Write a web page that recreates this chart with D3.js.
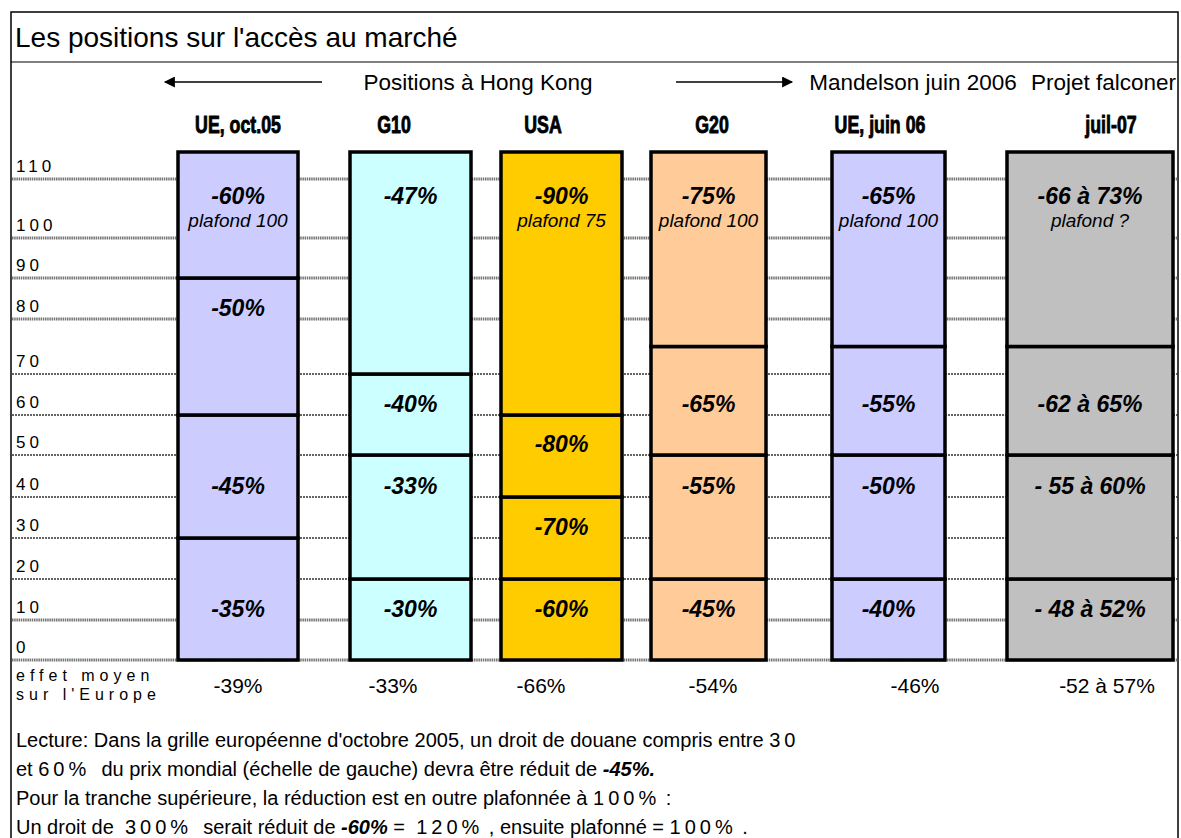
<!DOCTYPE html>
<html><head><meta charset="utf-8">
<script src="https://cdn.jsdelivr.net/npm/d3@7"></script>
<style>body{margin:0;background:#fff} svg{display:block} text{white-space:pre}</style>
</head><body><svg id="c" width="1181" height="838"></svg>
<script>
// ---------- DATA ----------
const title = "Les positions sur l'accès au marché";
const groupHeaders = ["Positions à Hong Kong", "Mandelson juin 2006", "Projet falconer"];
const categories = ["UE, oct.05", "G10", "USA", "G20", "UE, juin 06", "juil-07"];
const tierBreaks = [[0,30,60,90],[0,20,50,70],[0,20,40,60],[0,20,50,75],[0,20,50,75],[0,20,50,75]];
const tierLabels = [
  ["-35%","-45%","-50%","-60%"],
  ["-30%","-33%","-40%","-47%"],
  ["-60%","-70%","-80%","-90%"],
  ["-45%","-55%","-65%","-75%"],
  ["-40%","-50%","-55%","-65%"],
  ["- 48 à 52%","- 55 à 60%","-62 à 65%","-66 à 73%"]
];
const labelRows = [[10,40,80],[10,40,60],[10,30,50],[10,40,60],[10,40,60],[10,40,60]];
const capNotes = ["plafond 100", "", "plafond 75", "plafond 100", "plafond 100", "plafond ?"];
const averageLabel = ["effet moyen", "sur l'Europe"];
const averages = ["-39%", "-33%", "-66%", "-54%", "-46%", "-52 à 57%"];
const yTicks = [0,10,20,30,40,50,60,70,80,90,100,110];
const scaleTop = 120;
const notes = [
  [["Lecture: Dans la grille européenne d'octobre 2005, un droit de douane compris entre ","n"],["30","d"]],
  [["et ","n"],["60%","d"],["  du prix mondial (échelle de gauche) devra être réduit de ","n"],["-45%.","b"]],
  [["Pour la tranche supérieure, la réduction est en outre plafonnée à ","n"],["100%","d"],[" :","n"]],
  [["Un droit de  ","n"],["300%","d"],["  serait réduit de ","n"],["-60%","b"],[" =  ","n"],["120%","d"],[" , ensuite plafonné = ","n"],["100%","d"],[" .","n"]]
];

// ---------- LAYOUT / STYLE ----------
const fills = ["#ccccff","#ccffff","#ffcc00","#ffcc99","#ccccff","#c0c0c0"];
const L = {
  left: 11, right: 1178, top: 12, titleLine: 62,
  base: 660, rowPx: [40,41,41,41,42,40,41,55,41,40,59,27],
  boxLeft:  [178, 350, 501, 651, 832, 1007],
  boxRight: [298, 471, 622, 766, 945, 1173],
  headerX:  [238, 394, 543, 712, 880, 1111],
  avgX:     [238, 393, 541, 713, 915, 1107],
  groupX:   [478, 913, 1176],
  groupAnchor: ["middle", "middle", "end"]
};
const FONT = "'Liberation Sans', Arial, sans-serif";

const svg = d3.select("#c");

// y scale: piecewise linear over the sheet rows
const yDomain = yTicks.concat([scaleTop]);
const yRange = [L.base];
L.rowPx.forEach(h => yRange.push(yRange[yRange.length-1] - h));
const y = d3.scaleLinear().domain(yDomain).range(yRange);
const xL = d3.scaleOrdinal(categories, L.boxLeft);
const xR = d3.scaleOrdinal(categories, L.boxRight);
const xH = d3.scaleOrdinal(categories, L.headerX);
const xA = d3.scaleOrdinal(categories, L.avgX);
const color = d3.scaleOrdinal(categories, fills);

// frame
svg.append("rect").attr("x", L.left).attr("y", L.top)
  .attr("width", L.right - L.left).attr("height", 900)
  .attr("fill", "none").attr("stroke", "#000").attr("stroke-width", 1.5);
svg.append("line").attr("x1", L.left).attr("x2", L.right)
  .attr("y1", L.titleLine).attr("y2", L.titleLine)
  .attr("stroke", "#000").attr("stroke-width", 1.2);

// title
svg.append("text").attr("x", 15).attr("y", 47).text(title)
  .attr("font-family", FONT).attr("font-size", 28).attr("fill", "#000");

// arrows + group headers
const defs = svg.append("defs");
defs.append("marker").attr("id", "ah").attr("viewBox", "0 0 10 10")
  .attr("refX", 9).attr("refY", 5).attr("markerWidth", 15).attr("markerHeight", 11)
  .attr("markerUnits", "userSpaceOnUse").attr("orient", "auto-start-reverse")
  .append("path").attr("d", "M0,0L10,5L0,10z").attr("fill", "#000");
svg.append("line").attr("x1", 165).attr("x2", 322).attr("y1", 82).attr("y2", 82)
  .attr("stroke", "#000").attr("stroke-width", 1.3).attr("marker-start", "url(#ah)");
svg.append("line").attr("x1", 676).attr("x2", 792).attr("y1", 82).attr("y2", 82)
  .attr("stroke", "#000").attr("stroke-width", 1.3).attr("marker-end", "url(#ah)");
svg.selectAll("text.grp").data(groupHeaders).join("text").attr("class", "grp")
  .attr("x", (d, i) => L.groupX[i]).attr("y", 90).attr("text-anchor", (d, i) => L.groupAnchor[i])
  .attr("font-family", FONT).attr("font-size", 22.5).text(d => d);

// column headers (condensed heavy look)
svg.selectAll("text.hdr").data(categories).join("text").attr("class", "hdr")
  .attr("transform", d => `translate(${xH(d)},133) scale(0.74,1)`)
  .attr("text-anchor", "middle")
  .attr("font-family", FONT).attr("font-weight", "bold").attr("font-size", 24)
  .attr("stroke", "#000").attr("stroke-width", 0.9).text(d => d);

// gridlines
const heavy = v => v <= 10 || v >= 80;
svg.selectAll("line.grid").data(yTicks).join("line").attr("class", "grid")
  .attr("x1", L.left + 1).attr("x2", L.right)
  .attr("y1", d => y(d)).attr("y2", d => y(d))
  .attr("stroke", d => heavy(d) ? "#777" : "#333")
  .attr("stroke-width", d => heavy(d) ? 3 : 1.3)
  .attr("stroke-dasharray", d => heavy(d) ? "1.5,0.7" : "2,1");

// y tick labels
svg.selectAll("text.ytick").data(yTicks).join("text").attr("class", "ytick")
  .attr("x", 16).attr("y", d => y(d) - 7)
  .attr("font-family", FONT).attr("font-size", 17).attr("letter-spacing", 4)
  .text(d => d);

// boxes
const segs = [];
categories.forEach((c, i) => {
  tierBreaks[i].forEach((lo, j) => {
    const hi = j + 1 < tierBreaks[i].length ? tierBreaks[i][j+1] : scaleTop;
    segs.push({c, i, j, lo, hi, label: tierLabels[i][j],
      top: j === tierBreaks[i].length - 1, row: labelRows[i][j]});
  });
});
const g = svg.append("g");
g.selectAll("rect.seg").data(segs).join("rect").attr("class", "seg")
  .attr("x", d => xL(d.c)).attr("width", d => xR(d.c) - xL(d.c))
  .attr("y", d => y(d.hi)).attr("height", d => y(d.lo) - y(d.hi))
  .attr("fill", d => color(d.c)).attr("stroke", "#000").attr("stroke-width", 3.5);

const cx = c => (xL(c) + xR(c)) / 2;
g.selectAll("text.seglab").data(segs).join("text").attr("class", "seglab")
  .attr("x", d => cx(d.c))
  .attr("y", d => d.top ? y(100) - 34 : y(d.row) - 3)
  .attr("text-anchor", "middle").attr("font-family", FONT)
  .attr("font-weight", "bold").attr("font-style", "italic").attr("font-size", 23)
  .text(d => d.label);
g.selectAll("text.cap").data(categories).join("text").attr("class", "cap")
  .attr("x", d => cx(d)).attr("y", y(100) - 11)
  .attr("text-anchor", "middle").attr("font-family", FONT)
  .attr("font-style", "italic").attr("font-size", 19)
  .text((d, i) => capNotes[i]);

// averages row
svg.selectAll("text.avl").data(averageLabel).join("text").attr("class", "avl")
  .attr("x", 16).attr("y", (d, i) => 681 + i * 19)
  .attr("font-family", FONT).attr("font-size", 16).attr("letter-spacing", 5)
  .text(d => d);
svg.selectAll("text.avg").data(averages).join("text").attr("class", "avg")
  .attr("x", (d, i) => xA(categories[i])).attr("y", 693).attr("text-anchor", "middle")
  .attr("font-family", FONT).attr("font-size", 21).text(d => d);

// notes
const nt = svg.selectAll("text.note").data(notes).join("text").attr("class", "note")
  .attr("x", 16).attr("y", (d, i) => 747 + i * 29)
  .attr("font-family", FONT).attr("font-size", 20);
nt.selectAll("tspan").data(d => d).join("tspan")
  .attr("font-weight", d => d[1] === "b" ? "bold" : null)
  .attr("font-style", d => d[1] === "b" ? "italic" : null)
  .attr("letter-spacing", d => d[1] === "d" ? 4 : null)
  .text(d => d[0]);
</script></body></html>
